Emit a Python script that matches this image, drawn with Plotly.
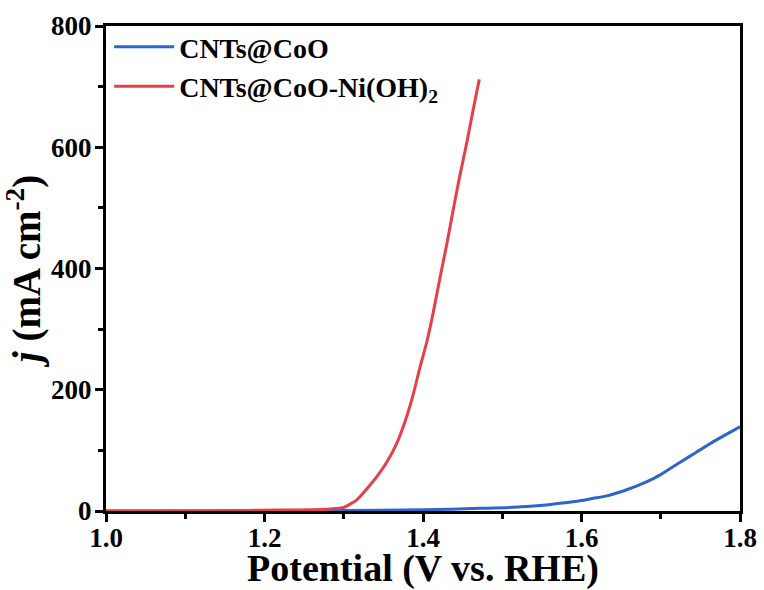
import plotly.graph_objects as go

# CNTs@CoO-Ni(OH)2 (red)
red_x = [1.00, 1.10, 1.18, 1.22, 1.26, 1.28, 1.29, 1.30, 1.316, 1.33, 1.342, 1.355,
         1.367, 1.378, 1.388, 1.396, 1.405, 1.413, 1.421, 1.430, 1.438, 1.446,
         1.455, 1.463, 1.471]
red_y = [0, 0, 1, 1.5, 2, 3, 4, 6, 18, 38, 57, 82, 112, 150, 194, 236, 280, 328,
         382, 440, 496, 550, 606, 660, 712]

# CNTs@CoO (blue)
blue_x = [1.0, 1.2, 1.3, 1.4, 1.472, 1.514, 1.556, 1.573, 1.598, 1.615, 1.632,
          1.657, 1.682, 1.70, 1.724, 1.745, 1.766, 1.785, 1.8]
blue_y = [0, 0.5, 1, 2, 4.4, 6, 10, 12.7, 17, 21, 25, 35, 48, 60, 80, 97, 114,
          128, 139]

x_ticks = [1.0, 1.2, 1.4, 1.6, 1.8]
y_ticks = [0, 200, 400, 600, 800]

FONT = "Liberation Serif"

fig = go.Figure()
fig.add_trace(go.Scatter(x=blue_x, y=blue_y, mode="lines",
                         name="<b>CNTs@CoO</b>",
                         line=dict(color="#2a66cc", width=3, shape="spline", smoothing=0.6)))
fig.add_trace(go.Scatter(x=red_x, y=red_y, mode="lines",
                         name="<b>CNTs@CoO-Ni(OH)<sub>2</sub></b>",
                         line=dict(color="#e5404a", width=3, shape="spline", smoothing=0.6)))

axis_common = dict(
    showline=True, linecolor="black", linewidth=3, mirror=True,
    ticks="outside", ticklen=8, tickwidth=3, tickcolor="black",
    showgrid=False, zeroline=False,
    tickfont=dict(family=FONT, size=27, color="black", weight="bold"),
)

fig.update_xaxes(
    range=[1.0, 1.8], tickvals=x_ticks, ticktext=[f"{v:.1f}" for v in x_ticks],
    minor=dict(ticks="outside", ticklen=5, tickwidth=3, tickcolor="black", dtick=0.1, showgrid=False),
    ticklabelstandoff=-7,
    title=dict(text="<b>Potential (V vs. RHE)</b>",
               font=dict(family=FONT, size=38, color="black"), standoff=0),
    **axis_common,
)
fig.update_yaxes(
    range=[0, 800], tickvals=y_ticks, ticktext=[str(v) for v in y_ticks],
    minor=dict(ticks="outside", ticklen=5, tickwidth=3, tickcolor="black", dtick=100, showgrid=False),
    ticklabelstandoff=-2,
    title=dict(text="<b><i>j</i> (mA cm<sup>-2</sup>)</b>",
               font=dict(family=FONT, size=39, color="black"), standoff=0),
    **axis_common,
)

fig.update_layout(
    width=764, height=590,
    margin=dict(l=106, r=24, t=26, b=79, autoexpand=False),
    plot_bgcolor="white", paper_bgcolor="white",
    showlegend=True,
    legend=dict(x=0.005, y=1.008, xanchor="left", yanchor="top",
                bgcolor="rgba(0,0,0,0)", borderwidth=0,
                font=dict(family=FONT, size=28, color="black"),
                tracegroupgap=0, itemwidth=60),
)

fig.write_html("out.html")
